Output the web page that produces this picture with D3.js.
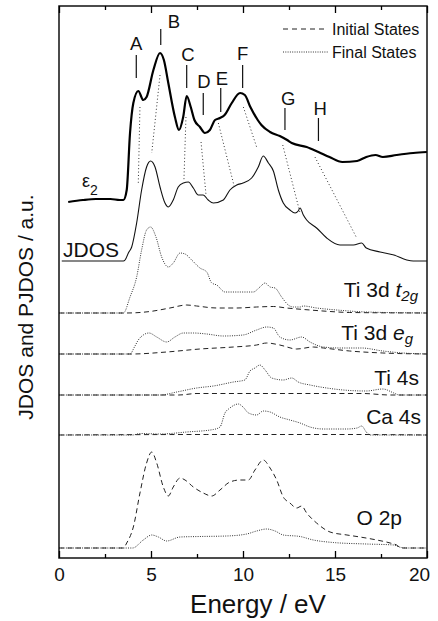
<!DOCTYPE html>
<html>
<head>
<meta charset="utf-8">
<script src="https://cdn.jsdelivr.net/npm/d3@7"></script>
<style>
  body { margin: 0; background: #fff; }
  text { font-family: 'Liberation Sans', Arial, Helvetica, sans-serif; fill: #111; }
</style>
</head>
<body>
<div class="container"></div>
<script>

/* Data: [energy eV, height above own baseline, a.u.] */

var eps2 = [[0.5,-2],[1.3,0],[2.0,1],[2.8,1],[3.3,0],[3.5,0],[3.68,10],[3.86,67],[4.04,97],[4.31,109],[4.58,100],[4.76,103],
  [5.13,130],[5.49,147],[5.7,140],[5.94,117],[6.3,83],[6.52,70],[6.75,83],[6.94,104],[7.16,93],[7.36,80],[7.66,73],
  [7.93,67],[8.2,70],[8.48,80],[8.75,82],[9.0,85],[9.39,97],[9.84,107],[10.1,105],[10.4,93],[10.8,80],[11.0,75],
  [11.47,68],[12.0,64],[12.4,60],[12.65,57],[13.46,53],[14.1,48],[14.7,43],[15.4,38],[16.2,39],[16.7,43],[17.2,45],
  [17.6,43],[18.35,45],[19.25,47],[20,48]];

var jdos = [[0.15,0],[3.5,0],[3.59,1],[3.77,8],[3.95,14],[4.22,38],[4.49,71],[4.76,94],[4.98,100],[5.22,94],[5.49,74],
  [5.76,58],[5.94,54],[6.21,61],[6.48,74],[6.76,78],[7.03,79],[7.3,73],[7.57,66],[7.84,66],[8.11,61],[8.39,58],
  [8.93,61],[9.29,71],[9.66,76],[10.0,78],[10.47,83],[10.83,94],[11.1,105],[11.38,98],[11.65,90],[11.92,71],[12.19,58],
  [12.55,51],[12.83,48],[13.0,50],[13.1,53],[13.28,46],[13.46,41],[14.0,33],[14.55,23],[15.27,16],[16.0,16],[16.45,18],
  [16.7,13],[17.45,9],[18.2,6],[18.9,1],[19.25,0],[20,0]];

var t2gFinal = [[0,0],[3.5,0],[3.86,16],[4.22,36],[4.49,63],[4.76,83],[4.98,86],[5.27,76],[5.58,56],[5.94,46],[6.21,50],
  [6.58,60],[6.85,59],[7.21,53],[7.66,45],[8.03,41],[8.3,30],[8.57,28],[9.02,21],[9.84,21],[10.56,21],[10.92,26],
  [11.2,30],[11.47,26],[11.74,25],[12.1,16],[12.46,8],[12.73,6],[13.1,6],[13.28,7],[14.0,5],[15.1,3],[16.7,1],[20,0]];
var t2gInitial = [[0,0],[3.68,0],[4.95,1.5],[6.03,5],[6.94,8],[7.48,7],[8.57,5],[9.66,5],[10.74,6],[11.65,6.5],
  [12.37,5],[13.64,3],[14.73,1.5],[15.8,0.5],[20,0]];

var egFinal = [[0,0],[3.86,0],[4.1,7],[4.31,14],[4.58,19],[4.89,21],[5.31,17],[5.85,12],[6.3,17],[6.76,21],[7.3,21],
  [8.03,20],[8.93,18],[10.0,19],[10.74,24],[11.29,27],[11.65,26],[12.0,17],[12.55,14],[13.19,17],[13.64,12],
  [14.37,7],[15.27,6],[16.45,6],[17.6,3],[18.7,1],[20,0]];
var egInitial = [[0,0],[3.95,0],[5.85,2],[7.66,5],[9.48,7],[10.74,9],[11.29,11],[12.0,9],[12.92,5],[13.82,7],
  [14.37,6],[15.8,3],[17.6,1],[20,0]];

var ti4sFinal = [[0,0],[5.5,0],[6.4,3],[7.48,7],[8.39,9],[9.48,13],[10.1,15],[10.38,24],[10.65,27],[10.92,30],
  [11.2,25],[11.56,17],[12.19,15],[12.65,17],[13.0,13],[13.64,10],[14.55,7],[15.45,5],[16.7,4],[17.6,6],[18.2,2],
  [18.5,0],[20,0]];
var ti4sInitial = [[0,0],[6.5,0],[7.5,1.5],[16.5,1.5],[18,0],[20,0]];

var ca4sFinal = [[0,0],[4.0,0],[4.4,1.5],[5.5,1],[6.94,3],[8.39,5.5],[8.75,8],[9.02,22],[9.29,27],[9.75,31],[10.0,28],
  [10.3,22],[10.74,20],[11.1,24],[11.47,23],[12.0,18],[12.55,15],[13.1,12],[13.64,8],[14.37,6],[15.65,6],[16.2,7],
  [16.45,9],[16.7,3],[16.9,0],[20,0]];
var ca4sInitial = [[0,0],[8,0.5],[16,0.5],[20,0]];

var o2pInitial = [[0,0],[3.5,0],[3.68,5],[4.04,21],[4.4,55],[4.76,85],[5.04,96],[5.31,85],[5.67,61],[5.94,52],
  [6.21,61],[6.58,70],[6.85,68],[7.3,61],[7.84,55],[8.3,52],[8.75,58],[9.29,66],[9.84,68],[10.29,68],[10.65,78],
  [11.1,88],[11.47,80],[11.83,68],[12.19,51],[12.55,45],[12.92,40],[13.19,42],[13.46,35],[14.0,25],[14.73,16],
  [15.65,13],[16.36,11],[17.27,8],[18.0,5],[18.35,3],[18.6,0],[20,0]];
var o2pFinal = [[0,0],[4.0,0],[4.58,8],[5.04,13],[5.4,11],[5.85,7],[6.58,11],[7.66,11.5],[9.11,12],[10.2,14],
  [10.74,17],[11.29,19],[11.74,17],[12.19,13],[13.1,11.5],[13.82,8],[14.9,5.5],[16.7,4],[18.2,3],[18.4,1.5],
  [18.9,0],[20,0]];

/* vertical offsets of the stacked curves (a.u.) */
var baselines = [358, 297, 245, 204, 163, 123, 10];

/* peak markers on eps2 */
var peakNames = ['A','B','C','D','E','F','G','H'];
var peakE = [4.2, 5.53, 6.94, 7.84, 8.79, 9.98, 12.28, 14.1];
var peakLineLo = [480, 513, 470, 443, 446, 470, 428, 417];
var peakLineHi = [503, 529, 493, 465, 470, 493, 450, 440];
var peakLetterE = [4.2, 6.25, 7.01, 7.88, 8.86, 9.98, 12.45, 14.2];
var peakLetterY = [508, 530, 497, 470, 473, 498, 453, 443];

/* dotted guides eps2 -> JDOS */
var connFrom = [[4.40,451],[5.49,483],[6.90,441],[7.72,416],[8.66,435],[10.02,451],[12.16,413],[13.91,401]];
var connTo = [[4.31,375],[5.04,405],[6.79,378],[7.99,363],[9.53,371],[10.74,411],[13.10,345],[16.18,320]];

var majorTicks = [0, 5, 10, 15, 20];
var minorTicks = [2.5, 7.5, 12.5, 17.5];

buildChart();

function buildChart() {

  var w = 438;
  var h = 621;
  var left = 59, right = 427, top = 6, bottom = 558;

  var svg = d3.select('.container')
    .append('svg')
    .attr('width', w)
    .attr('height', h);

  var xScale = d3.scaleLinear()
    .domain([0, 20])
    .range([left, right]);

  var yScale = d3.scaleLinear()
    .domain([0, 552])
    .range([bottom, top]);

  function lineAt(base) {
    return d3.line()
      .x(function(d) { return xScale(d[0]); })
      .y(function(d) { return yScale(base + d[1]); })
      .curve(d3.curveMonotoneX);
  }

  /* curve table */
  var dotted = '1,1.3';
  var dashed = '5,3.5';
  var curves = [
    {data: eps2, base: baselines[0], width: 2.2, dash: null, color: '#000'},
    {data: jdos, base: baselines[1], width: 1.1, dash: null, color: '#111'},
    {data: t2gInitial, base: baselines[2], width: 1, dash: dashed, color: '#222'},
    {data: t2gFinal, base: baselines[2], width: 1, dash: dotted, color: '#333'},
    {data: egInitial, base: baselines[3], width: 1, dash: dashed, color: '#222'},
    {data: egFinal, base: baselines[3], width: 1, dash: dotted, color: '#333'},
    {data: ti4sInitial, base: baselines[4], width: 1, dash: dashed, color: '#222'},
    {data: ti4sFinal, base: baselines[4], width: 1, dash: dotted, color: '#333'},
    {data: ca4sInitial, base: baselines[5], width: 1, dash: dashed, color: '#222'},
    {data: ca4sFinal, base: baselines[5], width: 1, dash: dotted, color: '#333'},
    {data: o2pInitial, base: baselines[6], width: 1, dash: dashed, color: '#222'},
    {data: o2pFinal, base: baselines[6], width: 1, dash: dotted, color: '#333'}
  ];

  svg.append('g')
    .selectAll('path')
    .data(curves)
    .enter()
    .append('path')
    .attr('d', function(c) { return lineAt(c.base)(c.data); })
    .attr('fill', 'none')
    .attr('stroke', function(c) { return c.color; })
    .attr('stroke-width', function(c) { return c.width; })
    .attr('stroke-dasharray', function(c) { return c.dash; })
    .attr('stroke-linejoin', 'round');

  /* dotted guides */
  svg.append('g')
    .selectAll('line')
    .data(connFrom)
    .enter()
    .append('line')
    .attr('x1', function(d) { return xScale(d[0]); })
    .attr('y1', function(d) { return yScale(d[1]); })
    .attr('x2', function(d, i) { return xScale(connTo[i][0]); })
    .attr('y2', function(d, i) { return yScale(connTo[i][1]); })
    .attr('stroke', '#333')
    .attr('stroke-width', 1)
    .attr('stroke-dasharray', '1,2.4');

  /* peak markers */
  var peaks = svg.append('g')
    .selectAll('g')
    .data(peakNames)
    .enter()
    .append('g');

  peaks.append('line')
    .attr('x1', function(d, i) { return xScale(peakE[i]); })
    .attr('x2', function(d, i) { return xScale(peakE[i]); })
    .attr('y1', function(d, i) { return yScale(peakLineLo[i]); })
    .attr('y2', function(d, i) { return yScale(peakLineHi[i]); })
    .attr('stroke', '#111')
    .attr('stroke-width', 1.2);

  peaks.append('text')
    .attr('x', function(d, i) { return xScale(peakLetterE[i]); })
    .attr('y', function(d, i) { return yScale(peakLetterY[i]); })
    .attr('text-anchor', 'middle')
    .attr('font-size', '18.5px')
    .text(function(d) { return d; });

  /* frame + axes */
  svg.append('rect')
    .attr('x', left)
    .attr('y', top)
    .attr('width', right - left)
    .attr('height', bottom - top)
    .attr('fill', 'none')
    .attr('stroke', '#111')
    .attr('stroke-width', 1.5);

  var xAxis = svg.append('g')
    .attr('transform', 'translate(0,' + bottom + ')')
    .call(d3.axisBottom(xScale).tickValues(majorTicks).tickSize(-7).tickPadding(10).tickFormat(d3.format('d')));
  xAxis.select('.domain').remove();
  xAxis.selectAll('text')
    .attr('font-size', '19px')
    .attr('font-family', "'Liberation Sans', Arial, sans-serif");
  xAxis.selectAll('.tick:last-of-type text').attr('dx', -8);
  xAxis.selectAll('line').attr('stroke-width', 1.3);

  var xMinor = svg.append('g')
    .attr('transform', 'translate(0,' + bottom + ')')
    .call(d3.axisBottom(xScale).tickValues(minorTicks).tickSize(-4).tickFormat(''));
  xMinor.select('.domain').remove();
  xMinor.selectAll('line').attr('stroke-width', 1.3);

  var xTop = svg.append('g')
    .attr('transform', 'translate(0,' + top + ')')
    .call(d3.axisTop(xScale).tickValues(majorTicks).tickSize(-7).tickFormat(''));
  xTop.select('.domain').remove();
  xTop.selectAll('line').attr('stroke-width', 1.3);

  var xTopMinor = svg.append('g')
    .attr('transform', 'translate(0,' + top + ')')
    .call(d3.axisTop(xScale).tickValues(minorTicks).tickSize(-4).tickFormat(''));
  xTopMinor.select('.domain').remove();
  xTopMinor.selectAll('line').attr('stroke-width', 1.3);

  /* axis titles */
  svg.append('text')
    .attr('x', 258)
    .attr('y', 613)
    .attr('text-anchor', 'middle')
    .attr('font-size', '26px')
    .text('Energy / eV');

  svg.append('text')
    .attr('transform', 'translate(33,307) rotate(-90)')
    .attr('text-anchor', 'middle')
    .attr('font-size', '21px')
    .text('JDOS and PJDOS / a.u.');

  /* curve labels */
  var eps = svg.append('text')
    .attr('x', 82)
    .attr('y', 187)
    .attr('font-size', '18px')
    .text('\u03b5');
  eps.append('tspan')
    .attr('dy', 8)
    .attr('font-size', '14px')
    .text('2');

  svg.append('text')
    .attr('x', 63)
    .attr('y', 257)
    .attr('font-size', '21px')
    .text('JDOS');

  var t2 = svg.append('text')
    .attr('x', 418).attr('y', yScale(baselines[2] + 16))
    .attr('text-anchor', 'end').attr('font-size', '21px');
  t2.append('tspan').text('Ti 3d ');
  t2.append('tspan').attr('font-style', 'italic').text('t');
  t2.append('tspan').attr('font-style', 'italic').attr('font-size', '15px').attr('dy', 4).text('2g');

  var eg = svg.append('text')
    .attr('x', 413).attr('y', yScale(baselines[3] + 14))
    .attr('text-anchor', 'end').attr('font-size', '21px');
  eg.append('tspan').text('Ti 3d ');
  eg.append('tspan').attr('font-style', 'italic').text('e');
  eg.append('tspan').attr('font-style', 'italic').attr('font-size', '15px').attr('dy', 4).text('g');

  svg.append('text')
    .attr('x', 419).attr('y', yScale(baselines[4] + 10))
    .attr('text-anchor', 'end').attr('font-size', '21px')
    .text('Ti 4s');

  svg.append('text')
    .attr('x', 421).attr('y', yScale(baselines[5] + 11))
    .attr('text-anchor', 'end').attr('font-size', '21px')
    .text('Ca 4s');

  svg.append('text')
    .attr('x', 402).attr('y', yScale(baselines[6] + 23))
    .attr('text-anchor', 'end').attr('font-size', '21px')
    .text('O 2p');

  /* legend */
  svg.append('line').attr('x1', 283).attr('x2', 328).attr('y1', 29).attr('y2', 29)
    .attr('stroke', '#222').attr('stroke-dasharray', '5,4');
  svg.append('line').attr('x1', 283).attr('x2', 328).attr('y1', 52).attr('y2', 52)
    .attr('stroke', '#333').attr('stroke-dasharray', dotted);
  svg.append('text').attr('x', 332).attr('y', 35).attr('font-size', '16px').text('Initial States');
  svg.append('text').attr('x', 332).attr('y', 58).attr('font-size', '16px').text('Final States');
}

</script>
</body>
</html>
